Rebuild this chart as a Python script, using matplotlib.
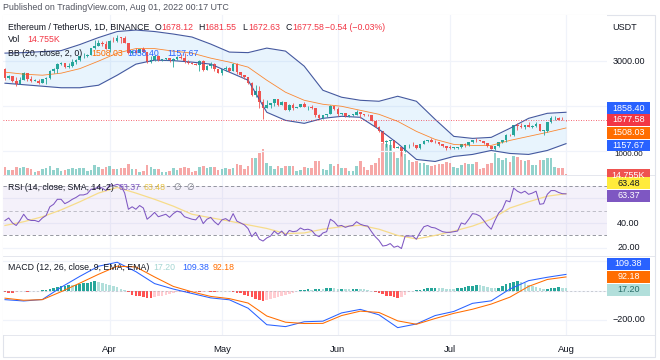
import numpy as np
import pandas as pd
import matplotlib
matplotlib.use("Agg")
import matplotlib.pyplot as plt
from matplotlib.patches import Rectangle
from matplotlib.lines import Line2D

plt.rcParams['font.family'] = ['Liberation Sans', 'DejaVu Sans']

# ETHUSDT daily candles, 4 Mar - 1 Aug 2022
dates = pd.date_range('2022-03-04', '2022-08-01', freq='D')

opens = [2834, 2618, 2663, 2555, 2497, 2575, 2727, 2608, 2557, 2559, 2518, 2590, 2620, 2773, 2815, 2945,
         2948, 2861, 2897, 2972, 3030, 3108, 3108, 3145, 3296, 3334, 3401, 3385,
         3282, 3457, 3445, 3522, 3521, 3411, 3171, 3234, 3190, 3260, 3210, 2980, 3030, 3120, 3020, 3040,
         3062, 2992, 3058, 3102, 3078, 2986, 2963, 2938, 2921, 3010, 2808, 2890, 2935, 2815,
         2727, 2826, 2856, 2780, 2940, 2748, 2695, 2636, 2518, 2245, 2342, 2077, 1960, 2015, 2057, 2145,
         2025, 2090, 1913, 2020, 1960, 1975, 2045, 1974, 1980, 1944, 1803, 1724, 1793, 1813, 1997,
         1942, 1823, 1834, 1776, 1801, 1806, 1860, 1813, 1793, 1789, 1662, 1530, 1433, 1205, 1210, 1232,
         1066, 1085, 995, 1126, 1127, 1124, 1051, 1144, 1225, 1243, 1200, 1191, 1141, 1096,
         1068, 1060, 1066, 1074, 1150, 1134, 1186, 1238, 1232, 1216, 1168, 1097, 1039, 1112, 1192, 1233,
         1355, 1340, 1577, 1544, 1525, 1574, 1536, 1550, 1598, 1440, 1449, 1636, 1724, 1735, 1696,
         1678.12]
highs = [2857, 2680, 2670, 2637, 2640, 2755, 2727, 2659, 2600, 2602, 2600, 2650, 2800, 2840, 2955, 2990,
         2950, 2950, 3040, 3040, 3125, 3190, 3160, 3300, 3480, 3482, 3445, 3445,
         3475, 3535, 3580, 3545, 3555, 3410, 3250, 3300, 3265, 3305, 3215, 3105, 3145, 3130, 3050, 3075,
         3075, 3060, 3125, 3170, 3190, 3035, 2978, 2955, 3020, 3035, 2920, 2985, 2955, 2835,
         2835, 2890, 2868, 2955, 2955, 2755, 2700, 2640, 2535, 2460, 2450, 2150, 2140, 2075, 2150, 2145,
         2115, 2095, 2040, 2065, 1985, 2050, 2080, 2000, 2010, 1955, 1815, 1805, 1815, 2015, 2000,
         1970, 1845, 1840, 1805, 1820, 1915, 1860, 1830, 1820, 1795, 1670, 1545, 1435, 1245, 1250, 1235,
         1115, 1085, 1135, 1160, 1185, 1130, 1150, 1235, 1250, 1280, 1235, 1205, 1145, 1100,
         1120, 1075, 1080, 1155, 1165, 1195, 1245, 1280, 1245, 1220, 1175, 1100, 1115, 1200, 1240, 1365,
         1380, 1580, 1620, 1620, 1585, 1645, 1580, 1630, 1600, 1460, 1650, 1785, 1780, 1760, 1745,
         1681.55]
lows = [2586, 2603, 2540, 2456, 2480, 2568, 2560, 2527, 2546, 2500, 2505, 2500, 2605, 2745, 2740, 2920,
        2840, 2850, 2880, 2935, 3010, 3075, 3090, 3130, 3280, 3330, 3340, 3270,
        3210, 3435, 3425, 3400, 3410, 3150, 3160, 3180, 3190, 3200, 2960, 2950, 3000, 2995, 3000, 3025,
        2990, 2880, 3030, 3050, 2950, 2930, 2930, 2910, 2790, 2785, 2795, 2850, 2790, 2725,
        2700, 2780, 2760, 2775, 2705, 2635, 2590, 2500, 2225, 2200, 1950, 1700, 1950, 1945, 2005, 1990,
        2015, 1910, 1880, 1920, 1960, 1965, 1965, 1920, 1940, 1750, 1715, 1710, 1760, 1810, 1910,
        1780, 1800, 1745, 1745, 1775, 1800, 1730, 1770, 1780, 1655, 1520, 1425, 1170, 1075, 1005, 1055,
        1065, 880, 980, 1065, 1105, 1045, 1045, 1140, 1185, 1195, 1175, 1135, 1080, 1010,
        1035, 1040, 1035, 1070, 1090, 1110, 1170, 1200, 1210, 1150, 1090, 1030, 1005, 1080, 1180, 1190,
        1330, 1335, 1460, 1500, 1480, 1525, 1500, 1540, 1435, 1355, 1420, 1620, 1695, 1680, 1675,
        1672.63]
closes = [2618, 2663, 2555, 2497, 2575, 2727, 2608, 2557, 2559, 2518, 2590, 2620, 2773, 2815, 2945, 2948,
          2861, 2897, 2972, 3030, 3108, 3108, 3145, 3296, 3334, 3401, 3385, 3282,
          3457, 3445, 3522, 3521, 3411, 3171, 3234, 3190, 3260, 3210, 2980, 3030, 3120, 3020, 3040, 3062,
          2992, 3058, 3102, 3078, 2986, 2963, 2938, 2921, 3010, 2808, 2890, 2935, 2815, 2727,
          2826, 2856, 2780, 2940, 2748, 2695, 2636, 2518, 2245, 2342, 2077, 1960, 2015, 2057, 2145, 2025,
          2090, 1913, 2020, 1960, 1975, 2045, 1974, 1980, 1944, 1803, 1724, 1793, 1813, 1997, 1942,
          1823, 1834, 1776, 1801, 1806, 1860, 1813, 1793, 1789, 1662, 1530, 1433, 1205, 1210, 1232, 1066,
          1085, 995, 1126, 1127, 1124, 1051, 1144, 1225, 1243, 1200, 1191, 1141, 1096, 1068,
          1060, 1066, 1074, 1150, 1134, 1186, 1238, 1232, 1216, 1168, 1097, 1039, 1112, 1192, 1233, 1355,
          1340, 1577, 1544, 1525, 1574, 1536, 1550, 1598, 1440, 1449, 1636, 1724, 1735, 1696, 1678,
          1677.58]
volume_k = [600, 330, 350, 560, 520, 560, 480, 420, 210, 300, 430, 480, 650, 380, 520, 300, 330, 420, 520,
            430, 500, 480, 240, 380, 700, 580, 420, 540,
            680, 400, 400, 520, 480, 780, 460, 440, 220, 280, 700, 560, 440, 420, 230, 190, 240, 520, 380,
            500, 600, 480, 220, 240, 560, 640, 520, 540, 560, 380,
            420, 500, 420, 520, 820, 700, 420, 620, 1280, 1280, 1650, 1950, 900, 620, 440, 660, 520, 680,
            620, 640, 260, 340, 580, 500, 520, 1050, 1050, 460, 330, 820, 620,
            800, 520, 480, 270, 280, 620, 1050, 540, 380, 760, 850, 1250, 2400, 2350, 2300, 1800, 1250,
            1950, 1550, 1150, 950, 1020, 900, 920, 720, 660, 720, 820, 840, 950,
            880, 560, 500, 720, 900, 840, 800, 950, 450, 520, 820, 850, 1650, 1250, 1150, 1250, 1000,
            1450, 1350, 1150, 1050, 1100, 700, 700, 1150, 1100, 1300, 1250, 600, 520, 480,
            14.755]
rsi = [42, 44, 40, 38, 42, 47, 43, 42, 42, 41, 44, 46, 53, 55, 59, 59, 55.5, 57, 59, 60.5,
       62.5, 62.5, 63.5, 67, 67.5, 69, 68, 66, 70.8, 70, 71, 70, 64, 51, 53, 51, 54, 52, 43, 45.5,
       48.5, 45, 46, 47, 44.5, 47.5, 49.5, 48.5, 45, 44, 43, 42.5, 46, 39.5, 43, 44.5, 41, 38.5, 42.5, 43.5,
       41.5, 47.5, 41.5, 40, 38.5, 35.5, 29, 32.5, 27, 25.5, 28, 29.5, 33.5, 31, 33.5, 30, 34, 33, 33.5, 36,
       34.5, 35, 34, 30.5, 29, 32, 33, 43, 41, 37.5, 38, 36.5, 37.5, 38, 41, 39, 38, 37.5, 33, 29,
       26, 21.5, 22, 23.5, 20.5, 21.5, 19.5, 29.5, 29.5, 29.5, 27, 32.5, 37, 38, 36.5, 36, 34.5, 33, 32.5, 32.5,
       33, 33.5, 40, 39, 43, 47.5, 47, 45.5, 42, 38, 35, 42, 48, 51, 58, 57, 68, 65.5, 64, 65.5,
       63, 64, 65.5, 55, 55.5, 63, 66, 66, 64.5, 63.5, 63.37]
macd_hist = [-12, -14, -15, -11, -6, -5, -7, -4, -3, -2, 1,
             4, 10, 16, 22, 28, 32, 36, 36, 40, 44,
             48, 52, 58, 62, 60, 52, 45, 40, 32, 24, 12, 4,
             -10, -28, -34, -40, -44, -48, -52, -46, -40, -34, -28, -22, -16, -10, -8,
             -12, -14, -10, -8, -12, -9, -6, -9, -12, -8, -5, -3, -6,
             -10, -14, -20, -28, -36, -46, -55, -64, -72, -66, -58, -50, -42, -36, -30, -22, -14, -5,
             3, 6, 8, 6, 10, 12, 9, 14, 16, 14, 10, 12, 9, 8, 10, 12, 10, 7, 4, -2,
             -10, -18, -26, -34, -40, -45, -50, -46, -30, -12, -4, 2,
             6, 10, 14, 18, 20, 16, 14, 12, 10, 9,
             14, 20, 24, 28, 34, 40, 36, 30, 24, 18, 14,
             20, 30, 42, 52, 60, 62, 55, 48, 40, 32, 26, 14, 8, 12, 18, 20, 22, 19, 17.2]

# smooth indicator lines, read every 5th session
line_dates = dates[::5]
bb_upper = [3179, 3190, 3213, 3235, 3370, 3526, 3661, 3694, 3661, 3605, 3538, 3381, 3202, 3190, 3291, 3224,
            2888, 2350, 2194, 2126, 2104, 2216, 2104, 1701, 1320, 1275, 1298, 1500, 1723, 1835, 1858.40]
bb_basis = [2754, 2709, 2686, 2731, 2832, 3000, 3179, 3280, 3280, 3224, 3179, 3067, 2978, 2866, 2574, 2306,
            2126, 2037, 1992, 1902, 1813, 1656, 1432, 1253, 1141, 1118, 1118, 1230, 1320, 1410, 1508.03]
bb_lower = [2507, 2474, 2440, 2406, 2406, 2462, 2686, 2933, 3022, 3011, 2978, 2933, 2754, 2574, 1858, 1678,
            1611, 1723, 1768, 1746, 1477, 1163, 805, 760, 872, 917, 1006, 939, 917, 1006, 1157.67]
rsi_sma = [38, 41, 45, 50.5, 57, 64, 68.5, 64, 59, 53.5, 47, 44.2, 41.5, 38.5, 35.6, 31.5, 32, 35, 37, 38.2,
           35, 30, 27.2, 30, 33.5, 37.5, 43, 52, 57, 61.5, 63.48]
macd_line = [-62, -71, -61, 22, 96, 165, 192, 128, 47, 10, -20, -50, -63, -120, -232, -245, -212, -208, -152,
             -128, -165, -252, -227, -170, -142, -87, -70, 10, 67, 90, 109.38]
macd_signal = [-52, -66, -62, -8, 50, 110, 165, 160, 92, 28, -9, -40, -55, -85, -173, -215, -224, -223, -170,
               -140, -149, -206, -229, -190, -155, -127, -92, -45, 28, 75, 92.18]

price_ticks = [1000, 2000, 3000]
rsi_ticks = [20, 40, 60]
macd_ticks = [-200, 0, 200]

# ---- layout ----
W, H = 660, 360
UP, DOWN = '#26a69a', '#ef5350'
TEXT = '#131722'
GRID = '#f0f3fa'
BLUE, ORANGE, RED, PURPLE = '#2962ff', '#ff6d00', '#f23645', '#7e57c2'

x = np.arange(len(dates))
lx = np.asarray((line_dates - dates[0]).days)
o, h, l, c = map(np.array, (opens, highs, lows, closes))
up = c >= o
cols = np.where(up, UP, DOWN)

fig = plt.figure(figsize=(W / 100, H / 100), dpi=100)
fig.patch.set_facecolor('white')


def fy(y):
    return 1 - y / H


def pane(top, bottom, z=1):
    ax = fig.add_axes([3 / W, fy(bottom), 604 / W, (bottom - top) / H], zorder=z)
    ax.set_xlim(-0.53, 160.96)
    for s in ax.spines.values():
        s.set_visible(False)
    ax.set_xticks([])
    ax.set_yticks([])
    return ax


month_idx = [i for i, d in enumerate(dates) if d.day == 1]
month_lab = [dates[i].strftime('%b') for i in month_idx]

# volume underneath the price pane
ax_vol = pane(15, 174.5, z=1)
ax_vol.set_ylim(0, 12300)
for m in month_idx:
    ax_vol.axvline(m, color=GRID, lw=0.9, zorder=0)
ax_vol.bar(x, volume_k, width=0.7, color=cols, alpha=0.5, lw=0)

ax = pane(15, 174.5, z=2)
ax.patch.set_visible(False)
ax.set_ylim(469, 4030)
for p in price_ticks:
    ax.axhline(p, color=GRID, lw=0.9, zorder=0)
ax.fill_between(lx, bb_lower, bb_upper, color='#2196f3', alpha=0.1, lw=0)
ax.plot(lx, bb_upper, color='#45599f', lw=0.8)
ax.plot(lx, bb_lower, color='#45599f', lw=0.8)
ax.plot(lx, bb_basis, color=ORANGE, lw=0.6, alpha=0.8)
ax.vlines(x, l, h, colors=cols, lw=0.6)
ax.bar(x, np.maximum(np.abs(c - o), 12), bottom=np.minimum(o, c), width=0.7, color=cols, lw=0)
ax.axhline(c[-1], color=RED, lw=0.6, ls=(0, (1, 2)))

# RSI pane
ax_r = pane(174.5, 255.5)
ax_r.set_ylim(13.9, 78.9)
for m in month_idx:
    ax_r.axvline(m, color=GRID, lw=0.9, zorder=0)
for t in rsi_ticks:
    ax_r.axhline(t, color=GRID, lw=0.9, zorder=0)
ax_r.axhspan(30, 70, color=PURPLE, alpha=0.08, lw=0)
for lev, a in ((70, 0.9), (50, 0.5), (30, 0.9)):
    ax_r.axhline(lev, color='#787b86', lw=0.6, ls=(0, (4, 3)), alpha=a)
ax_r.plot(lx, rsi_sma, color='#f7dc8a', lw=0.9)
ax_r.plot(x, rsi, color=PURPLE, lw=0.75)

# MACD pane
ax_m = pane(255.5, 335)
ax_m.set_ylim(-301.9, 237.7)
for m in month_idx:
    ax_m.axvline(m, color=GRID, lw=0.9, zorder=0)
for t in macd_ticks:
    ax_m.axhline(t, color=GRID, lw=0.9, zorder=0)
hv = np.array(macd_hist)
prev = np.r_[hv[0], hv[:-1]]
hcols = np.where(hv >= 0, np.where(hv > prev, '#26a69a', '#b2dfdb'),
                 np.where(hv > prev, '#ffcdd2', '#ff5252'))
ax_m.bar(x, hv, width=0.7, color=hcols, lw=0)
ax_m.axhline(0, color='#9598a1', lw=0.5, ls=(0, (3, 3)), alpha=0.6)
ax_m.plot(lx, macd_line, color=BLUE, lw=0.75)
ax_m.plot(lx, macd_signal, color=ORANGE, lw=0.75)
ax_m.set_xticks(month_idx)
ax_m.set_xticklabels(month_lab, fontsize=6.8, color=TEXT)
ax_m.tick_params(axis='x', length=0, pad=7)

# frame and separators
fig.add_artist(Rectangle((3 / W, fy(357)), 652 / W, 342 / H, transform=fig.transFigure,
                         fill=False, edgecolor='#e0e3eb', lw=0.8))
for yy in (174.5, 255.5, 335):
    fig.add_artist(Line2D([3 / W, 655 / W], [fy(yy)] * 2, color='#e0e3eb', lw=0.6))


def ptext(px, py, s, color=TEXT, size=6.3, ha='left', z=4):
    fig.text(px / W, fy(py), s, color=color, fontsize=size, ha=ha, va='center', zorder=z)


def tag(py, s, bg, fg='white', hgt=12):
    fig.add_artist(Rectangle((607 / W, fy(py + hgt / 2)), 43 / W, hgt / H, transform=fig.transFigure,
                             facecolor=bg, edgecolor='none', zorder=5))
    ptext(628.5, py, s, color=fg, size=6.5, ha='center', z=6)


ptext(3, 7, 'Published on TradingView.com, Aug 01, 2022 00:17 UTC', color='#50535e', size=6.4)

# legends
chg = closes[-1] - opens[-1]
ptext(8, 27, 'Ethereum / TetherUS, 1D, BINANCE')
for lx_, key, val in ((155, 'O', opens[-1]), (198, 'H', highs[-1]), (242, 'L', lows[-1]), (286, 'C', closes[-1])):
    ptext(lx_, 27, key)
    ptext(lx_ + 6, 27, f'{val:.2f}', color=RED)
ptext(325, 27, f'{chg:.2f} ({chg / opens[-1] * 100:.2f}%)'.replace('-', '\u2212'), color=RED)
ptext(8, 40, 'Vol')
ptext(27, 40, f'{volume_k[-1]:.3f}K', color=RED)
ptext(8, 53, 'BB (20, close, 2, 0)')
ptext(91, 53, f'{bb_basis[-1]:.2f}', color=ORANGE)
ptext(127, 53, f'{bb_upper[-1]:.2f}', color=BLUE)
ptext(167, 53, f'{bb_lower[-1]:.2f}', color=BLUE)
ptext(8, 187, 'RSI (14, close, SMA, 14, 2)')
ptext(118, 187, f'{rsi[-1]:.2f}', color=PURPLE)
ptext(143, 187, f'{rsi_sma[-1]:.2f}', color='#e8c547')
ptext(173, 187, '\u2205', color='#787b86')
ptext(186, 187, '\u2205', color='#787b86')
ptext(8, 267, 'MACD (12, 26, close, 9, EMA, EMA)')
ptext(153, 267, f'{macd_hist[-1]:.2f}', color='#a5d6d3')
ptext(182, 267, f'{macd_line[-1]:.2f}', color=BLUE)
ptext(213, 267, f'{macd_signal[-1]:.2f}', color=ORANGE)

# price scale
ptext(612, 27, 'USDT', size=6.5)
ptext(628.5, 61, f'{price_ticks[2]:.2f}', size=6.5, ha='center')
ptext(628.5, 155, f'{price_ticks[0]:.2f}', size=5.8, ha='center')
tag(108, f'{bb_upper[-1]:.2f}', BLUE)
tag(120, f'{closes[-1]:.2f}', RED)
tag(132.5, f'{bb_basis[-1]:.2f}', ORANGE)
tag(145, f'{bb_lower[-1]:.2f}', BLUE, hgt=11)
tag(175, f'{volume_k[-1]:.3f}K', '#ef5350')
tag(183, f'{rsi_sma[-1]:.2f}', '#ffeb3b', fg=TEXT)
tag(195.5, f'{rsi[-1]:.2f}', PURPLE)
ptext(628.5, 223, f'{rsi_ticks[1]:.2f}', size=6.5, ha='center')
ptext(628.5, 247, f'{rsi_ticks[0]:.2f}', size=6.5, ha='center')
tag(263.5, f'{macd_line[-1]:.2f}', BLUE)
tag(276.5, f'{macd_signal[-1]:.2f}', ORANGE)
tag(290, f'{macd_hist[-1]:.2f}', '#b2dfdb', fg='#2a6f6a')
ptext(628.5, 320, f'{macd_ticks[0]:.2f}'.replace('-', '\u2212'), size=6.5, ha='center')

fig.savefig('out.png', dpi=100)
